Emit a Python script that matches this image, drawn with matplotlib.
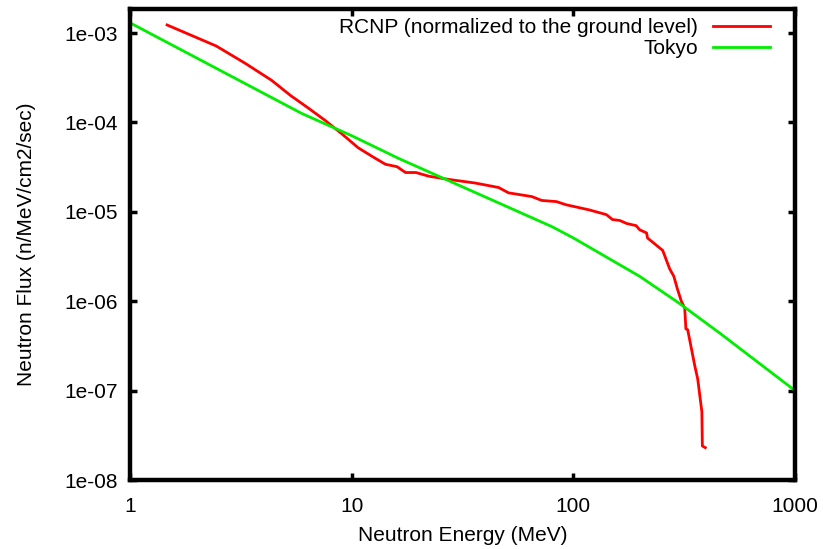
import matplotlib
matplotlib.use("Agg")
import matplotlib.pyplot as plt
from matplotlib.ticker import FixedLocator, NullLocator

plt.rcParams['font.family'] = ['Liberation Sans', 'DejaVu Sans']

# RCNP spectrum (normalized to ground level)
rcnp_e = [1.47, 2.45, 3.3, 4.35, 5.3, 6.39, 7.6, 9.0, 10.7, 12.5, 14.2, 16.0, 17.5, 18.7, 19.5, 22.3, 27.5,
          36, 46, 51, 65, 72, 84, 92.6, 118, 141, 150, 162, 174, 192, 199, 214, 216,
          253, 264, 272, 284, 294, 307, 318, 322, 328, 353, 364, 380, 382, 394]
rcnp_f = [1.23e-3, 7.15e-4, 4.6e-4, 2.96e-4, 2.0e-4, 1.44e-4, 1.05e-4, 7.5e-5, 5.2e-5, 4.1e-5, 3.4e-5,
          3.2e-5, 2.75e-5, 2.75e-5, 2.75e-5, 2.5e-5, 2.3e-5, 2.1e-5, 1.87e-5, 1.63e-5, 1.48e-5,
          1.34e-5, 1.3e-5, 1.2e-5, 1.05e-5, 9.3e-6, 8.2e-6, 8.0e-6, 7.4e-6, 7.0e-6, 6.3e-6,
          5.8e-6, 5.1e-6, 3.7e-6, 2.8e-6, 2.3e-6, 1.9e-6, 1.4e-6, 1.0e-6, 8.4e-7, 4.9e-7,
          4.8e-7, 1.9e-7, 1.35e-7, 5.8e-8, 2.4e-8, 2.3e-8]

# Tokyo spectrum
tokyo_e = [1.0, 5.95, 10.0, 16.3, 80.3, 100, 199, 300, 459, 1000]
tokyo_f = [1.3e-3, 1.26e-4, 7.1e-5, 3.95e-5, 6.8e-6, 5.1e-6, 1.9e-6, 9.5e-7, 4.37e-7, 1.0e-7]

x_ticks = [1, 10, 100, 1000]
x_labels = ['1', '10', '100', '1000']
y_ticks = [1e-8, 1e-7, 1e-6, 1e-5, 1e-4, 1e-3]
y_labels = ['1e-08', '1e-07', '1e-06', '1e-05', '1e-04', '1e-03']

W, H = 823, 549
L, R, T, B = 130, 795, 9, 480
FS = 15

fig = plt.figure(figsize=(W / 100, H / 100), dpi=100)
ax = fig.add_axes([L / W, 1 - B / H, (R - L) / W, (B - T) / H])

ax.plot(rcnp_e, rcnp_f, color='#ff0000', lw=2.0, label='RCNP (normalized to the ground level)')
ax.plot(tokyo_e, tokyo_f, color='#00ee00', lw=2.0, label='Tokyo')

ax.set_xscale('log')
ax.set_yscale('log')
ax.set_xlim(1, 1000)
ax.set_ylim(1e-8, 10 ** -2.7315)

ax.xaxis.set_major_locator(FixedLocator(x_ticks))
ax.set_xticklabels(x_labels)
ax.xaxis.set_minor_locator(NullLocator())
ax.yaxis.set_major_locator(FixedLocator(y_ticks))
ax.set_yticklabels(y_labels)
ax.yaxis.set_minor_locator(NullLocator())

ax.tick_params(which='major', direction='in', length=5, width=2.5, top=True, right=True,
               labelsize=FS, colors='black')
ax.tick_params(axis='x', pad=12)
ax.tick_params(axis='y', pad=9)
for s in ax.spines.values():
    s.set_linewidth(3.2)

ax.set_xlabel('Neutron Energy (MeV)', fontsize=FS, labelpad=7.5)
ax.set_ylabel('Neutron Flux (n/MeV/cm2/sec)', fontsize=FS, labelpad=20)

leg = ax.legend(loc='upper right', frameon=False, markerfirst=False, fontsize=FS,
                handlelength=2.75, handletextpad=0.72, borderaxespad=0, borderpad=0,
                labelspacing=0.1,
                bbox_to_anchor=((770 - L) / (R - L), (B - 18) / (B - T)))
for t in leg.get_texts():
    t.set_ha('right')

fig.savefig('out.png', dpi=100)
